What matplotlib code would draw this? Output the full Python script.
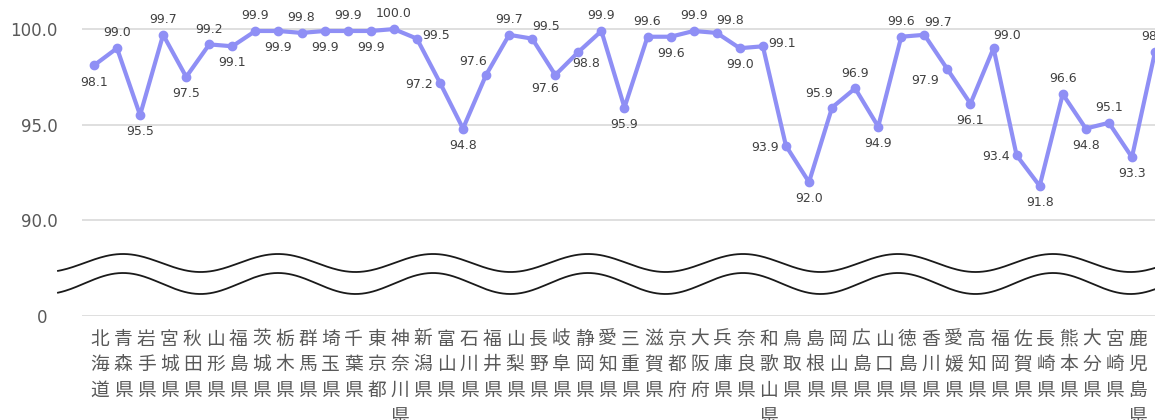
import numpy as np
import matplotlib.pyplot as plt
from matplotlib.transforms import ScaledTranslation

plt.rcParams['font.family'] = ['DejaVu Sans']

# Prefectures (vertical labels) and rates (%)
prefectures = ['北海道', '青森県', '岩手県', '宮城県', '秋田県', '山形県', '福島県', '茨城県',
               '栃木県', '群馬県', '埼玉県', '千葉県', '東京都', '神奈川県', '新潟県', '富山県',
               '石川県', '福井県', '山梨県', '長野県', '岐阜県', '静岡県', '愛知県', '三重県',
               '滋賀県', '京都府', '大阪府', '兵庫県', '奈良県', '和歌山県', '鳥取県', '島根県',
               '岡山県', '広島県', '山口県', '徳島県', '香川県', '愛媛県', '高知県', '福岡県',
               '佐賀県', '長崎県', '熊本県', '大分県', '宮崎県', '鹿児島県', '沖縄県']
rates = [98.1, 99.0, 95.5, 99.7, 97.5, 99.2, 99.1, 99.9,
         99.9, 99.8, 99.9, 99.9, 99.9, 100.0, 99.5, 97.2,
         94.8, 97.6, 99.7, 99.5, 97.6, 98.8, 99.9, 95.9,
         99.6, 99.6, 99.9, 99.8, 99.0, 99.1, 93.9, 92.0,
         95.9, 96.9, 94.9, 99.6, 99.7, 97.9, 96.1, 99.0,
         93.4, 91.8, 96.6, 94.8, 95.1, 93.3, 98.8]

# where each value label sits relative to its point
label_pos = ['b', 'a', 'b', 'a', 'b', 'a', 'b', 'a',
             'b', 'a', 'b', 'a', 'b', 'a', 'r', 'l',
             'b', 'al', 'a', 'ar', 'bl', 'br', 'a', 'b',
             'a', 'b', 'a', 'ar', 'b', 'r', 'l', 'b',
             'al', 'a', 'b', 'a', 'ar', 'lb', 'b', 'ar',
             'l', 'b', 'a', 'b', 'a', 'b', 'a']

offsets = {
    'a': ((0, 11), 'center'),
    'b': ((0, -12), 'center'),
    'l': ((-5, -1), 'right'),
    'r': ((4, 2), 'left'),
    'ar': ((10, 9), 'center'),
    'al': ((-9, 10), 'center'),
    'bl': ((-7, -10), 'center'),
    'br': ((6, -8), 'center'),
    'lb': ((-6, -8), 'right'),
}

W, H = 1155, 420
fig = plt.figure(figsize=(W / 100, H / 100), dpi=100)
fig.patch.set_facecolor('white')

ax_left = 82.4 / W
ax_bottom = 1 - 316 / H
ax = fig.add_axes([ax_left, ax_bottom, 1 - ax_left, 316 / H])

x = np.arange(len(rates))
line_color = '#8f8ff5'
ax.plot(x, rates, color=line_color, linewidth=3, marker='o', markersize=6,
        markerfacecolor=line_color, markeredgecolor=line_color, zorder=3,
        solid_joinstyle='round')

for xi, v, pos in zip(x, rates, label_pos):
    (dx, dy), ha = offsets[pos]
    ax.annotate(f'{v:.1f}', xy=(xi, v), xytext=(dx, dy), textcoords='offset points',
                ha=ha, va='center', fontsize=9, color='#404040', zorder=4,
                annotation_clip=False)

# broken axis: bottom of the plot (85) stands for 0
ax.set_ylim(85, 101.52)
ax.set_yticks([85, 90, 95, 100])
ax.set_yticklabels(['0', '90.0', '95.0', '100.0'], fontsize=12, color='#595959')
ax.grid(axis='y', color='#d9d9d9', linewidth=1.2)
ax.set_axisbelow(True)

xmax = 45.73
ax.set_xlim(-0.5, xmax)
ax.set_xticks(x)
ax.set_xticklabels(['\n'.join(p) for p in prefectures],
                   family=['Noto Sans CJK JP', 'DejaVu Sans'],
                   fontsize=13.5, color='#595959', linespacing=1.3, va='top')

ax.tick_params(axis='y', length=0, pad=18)
ax.tick_params(axis='x', length=0, pad=9)
for s in ax.spines.values():
    s.set_visible(False)

# category labels sit slightly right of their points; the last one is off-frame
for tick in ax.xaxis.get_major_ticks():
    lbl = tick.label1
    lbl.set_transform(lbl.get_transform() +
                      ScaledTranslation(0.06, 0, fig.dpi_scale_trans))
    if tick.get_loc() > xmax:
        lbl.set_visible(False)

# the '0' label sits a bit further left than the others
zero_lbl = ax.get_yticklabels()[0]
zero_lbl.set_transform(zero_lbl.get_transform() +
                       ScaledTranslation(-0.1, 0, fig.dpi_scale_trans))

# wavy break marks, drawn in pixel space on an overlay
over = fig.add_axes([0, 0, 1, 1])
over.set_xlim(0, W)
over.set_ylim(H, 0)
over.axis('off')
wx = np.linspace(58, W, 600)
for c, amp in [(263, 9), (283.5, 10.5)]:
    over.plot(wx, c - amp * np.cos(2 * np.pi * (wx - 123) / 155),
              color='#1a1a1a', linewidth=1.3)

fig.savefig('out.png', dpi=100, facecolor='white')
